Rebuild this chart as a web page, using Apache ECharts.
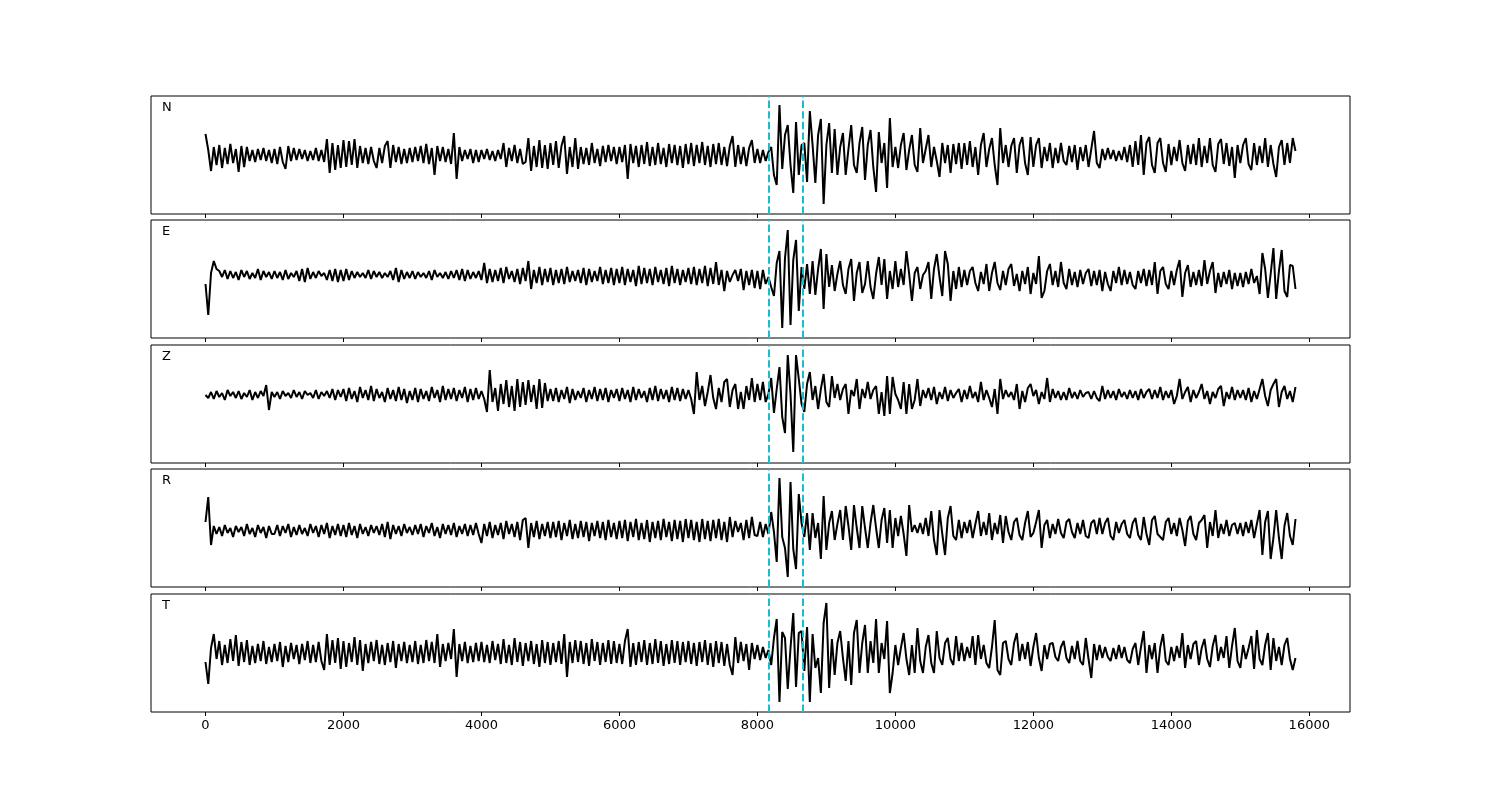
<!DOCTYPE html>
<html>
<head>
<meta charset="utf-8">
<script src="https://cdn.jsdelivr.net/npm/echarts@6/dist/echarts.min.js"></script>
<style>
html,body{margin:0;padding:0;background:#fff;}
#chart{width:1500px;height:800px;}
</style>
</head>
<body>
<div id="chart"></div>
<script>
// ---- data (amplitudes, one sample every 40 time units, t = 0 .. 15800) ----
const sampleStep = 40;
const componentLabels = ['N', 'E', 'Z', 'R', 'T'];
const pickTimes = [8160, 8655];
const xTickValues = [0, 2000, 4000, 6000, 8000, 10000, 12000, 14000, 16000];

const traceN = [
  21,5,-16,8,-10,10,-13,7,-9,11,-8,6,-17,9,-12,8,-6,5,-7,6,-5,7,-6,5,-8,
  6,-9,8,-7,-14,9,-6,7,-5,6,-4,5,-6,4,-5,7,-6,5,-7,16,-18,12,-15,10,-13,
  15,-12,14,-10,16,-13,9,-8,7,-9,8,-6,-13,7,-8,9,14,-13,10,-7,8,-9,6,-8,7,
  -7,8,-6,9,-8,11,-9,7,-20,9,-6,8,-7,6,-9,22,-24,8,-6,5,-4,6,-8,5,-7,
  5,-4,6,-5,4,-6,5,-4,12,-12,7,-6,10,-8,6,-9,-7,17,-16,9,-12,15,-13,10,-14,
  12,-10,14,-13,9,19,-19,8,-12,17,-14,8,-9,7,-10,12,-8,6,-11,9,-7,10,-6,8,-9,
  8,-7,10,-24,11,-8,9,-12,10,-9,13,-11,8,-10,12,-9,7,-12,11,-8,10,-10,9,-13,11,
  -9,12,-11,10,-8,13,-10,9,-12,11,-9,12,-10,8,-11,9,19,-12,10,-9,8,-11,7,15,-8,
  6,-8,5,-6,3,8,-20,-30,50,-14,20,30,-10,-38,33,-20,10,12,-27,44,10,-28,20,36,-49,
  10,32,-18,26,-20,8,22,-20,6,30,-10,-18,12,28,-25,10,25,-12,-37,23,-8,12,-33,37,-12,
  8,-13,10,22,-15,5,20,-10,-17,27,-8,6,20,-12,8,-6,-22,12,-8,10,-18,11,-9,12,-14,
  12,-10,14,-12,8,-20,10,22,-12,6,17,-10,-30,27,-8,10,-12,9,17,-18,10,18,-8,-20,18,
  -12,10,17,-13,8,-6,12,-13,7,-8,12,-6,-10,9,-7,10,-15,8,-6,10,-12,6,24,-8,-13,
  6,-5,7,-4,5,-6,4,-5,8,-7,10,-12,14,-10,20,-20,12,18,-10,-18,12,17,-8,-17,11,
  -10,8,-6,15,-8,-16,10,-9,11,-10,17,-12,9,-8,17,-10,-17,11,16,-9,12,-11,8,-23,10,
  -8,10,17,-9,-15,12,-10,9,-8,17,-12,10,-9,-22,8,15,-10,12,-8,17,4
];

const traceE = [
  -5,-36,6,18,10,8,2,9,0,8,1,7,-1,9,2,8,0,6,1,10,-1,8,2,7,0,
  8,1,7,-1,9,0,6,2,8,-2,10,-3,11,0,7,1,8,3,6,-1,9,-2,10,-3,9,
  -2,10,-1,8,1,7,2,6,1,9,0,8,2,7,1,6,2,8,-1,11,-3,9,0,7,1,
  8,0,7,2,6,1,8,-1,9,2,6,1,7,0,8,1,9,-1,10,-2,9,0,7,1,8,
  -1,16,-4,10,-3,9,-2,11,-4,12,0,8,-3,10,-5,11,-2,18,-10,9,-4,12,-6,10,-3,
  11,-6,9,-4,10,-5,12,-3,8,-2,9,-4,11,-6,10,-3,8,-2,12,-5,9,-4,11,-6,10,
  -4,12,-6,10,-3,9,-7,13,-5,11,-4,10,-6,12,-3,9,-5,11,-7,13,-4,10,-6,9,-3,
  11,-5,12,-6,10,-4,13,-7,11,-5,17,-6,9,-12,8,-3,4,9,-2,10,-11,8,-6,9,-9,
  8,-10,9,-5,2,-8,-17,16,28,-49,21,49,-46,19,39,-32,12,-10,15,-15,18,-16,10,30,-30,
  25,-8,14,-12,5,18,-6,-15,10,20,-22,6,17,-14,-5,18,-8,-20,5,22,-6,20,-20,8,-10,
  18,-8,10,-6,28,5,-22,6,12,-10,4,8,17,-20,10,25,2,-17,28,15,-22,8,-10,12,-8,
  9,-6,8,12,-4,-12,7,-5,15,-12,6,17,-4,-11,8,-6,10,15,-7,5,-12,8,-5,12,-15,
  6,-5,23,-19,-12,8,15,-6,8,-8,17,-4,-10,10,-6,7,-8,9,-5,6,10,-7,8,-6,9,
  -12,7,-5,-12,8,-4,12,-6,9,-5,7,-6,-10,8,-4,10,-7,9,-6,17,-15,8,12,-5,-10,
  8,-6,9,19,-18,6,14,-8,7,-6,9,-7,19,-5,8,17,-14,6,-8,7,-5,9,-10,6,-7,
  6,-8,7,-5,10,-4,3,-15,26,10,-19,5,31,-20,8,29,-12,-18,14,13,-10
];

const traceZ = [
  9,6,12,5,13,7,11,4,14,8,12,6,13,5,11,7,14,4,12,6,13,8,19,-6,12,
  7,12,5,13,8,11,6,14,7,12,5,13,9,11,6,14,5,12,8,13,6,15,4,14,7,
  15,3,16,5,13,2,17,6,14,4,18,3,15,6,12,2,16,5,14,3,17,4,15,1,13,
  4,16,2,15,5,13,3,17,6,14,2,18,4,15,5,16,3,14,6,17,2,15,4,16,5,
  13,5,-8,34,2,16,-7,20,0,24,-3,18,-7,25,-3,22,-1,24,2,19,-5,25,-4,21,3,
  15,3,16,2,14,5,17,1,15,4,13,6,16,2,14,5,17,3,15,4,16,2,14,6,15,
  3,16,5,14,2,17,4,15,6,13,2,16,4,18,3,15,5,14,2,17,4,16,3,15,5,
  14,5,-10,32,4,18,-2,12,29,6,-5,16,2,22,25,-3,14,20,-5,12,-5,18,4,26,2,
  20,4,22,2,10,26,-9,15,37,-13,-29,49,10,-48,49,25,0,-8,20,32,4,18,-5,15,30,
  2,-3,28,6,20,4,15,20,-10,14,8,25,-5,15,6,22,5,14,18,-10,12,-12,28,-10,27,
  10,4,-5,22,-10,20,-5,4,25,-2,14,6,16,4,17,0,12,5,17,3,14,6,11,15,2,
  14,5,18,6,12,2,22,4,14,6,-3,15,-10,25,5,14,7,12,4,20,-5,13,2,16,20,
  8,14,0,12,5,26,2,15,6,13,4,12,4,16,6,12,5,14,7,11,12,5,13,6,3,
  18,5,14,6,13,4,15,7,12,5,14,6,13,4,15,6,12,15,5,14,6,17,4,13,6,
  14,0,8,25,5,12,17,2,14,6,12,20,5,13,0,12,6,15,18,-2,12,5,17,4,14,
  6,14,4,16,2,13,5,15,25,8,-2,14,20,25,-3,12,18,5,13,2,17
];

const traceR = [
  6,31,-17,2,-6,1,-8,3,-5,0,-9,2,-4,1,-8,4,-6,0,-9,3,-5,1,-10,2,-6,
  -6,3,-8,2,-5,4,-9,1,-7,3,-6,0,-8,4,-5,2,-9,3,-6,5,-10,2,-7,4,-8,
  3,-9,5,-7,2,-10,4,-6,1,-8,3,-5,2,-7,4,-9,6,-11,3,-6,2,-8,4,-5,1,
  -7,3,-6,4,-9,2,-5,5,-8,1,-10,4,-6,3,-7,5,-9,2,-6,4,-8,3,-7,5,-6,
  -15,4,-8,6,-10,3,-7,5,-11,7,-6,4,-9,6,-12,8,10,-20,5,-9,7,-11,4,-8,6,
  -10,6,-9,7,-12,5,-8,8,-11,4,-10,7,-9,6,-13,5,-8,7,-10,6,-12,8,-9,5,-11,
  7,-10,8,-13,6,-9,9,-12,5,-11,8,-14,6,-10,7,-12,9,-9,6,-13,8,-11,7,-14,9,
  -10,8,-12,6,-14,9,-11,7,-13,8,-10,9,-12,6,-14,11,-9,7,-4,5,-12,8,-10,11,-7,
  -8,6,-9,4,-6,16,-4,-34,50,-9,-20,-49,46,-21,-41,34,5,-9,15,-22,15,-10,5,-31,32,
  -22,5,17,-12,4,18,-12,22,2,-22,23,0,-20,22,0,-20,5,23,0,-20,8,20,-15,18,-20,
  10,-8,12,-6,-28,23,-4,3,-5,5,-6,10,-8,17,-12,-27,18,-6,-27,10,22,-8,-12,8,-10,
  6,-5,8,-10,4,17,-8,6,-7,15,-12,5,-6,13,-15,12,-4,-12,6,10,-7,-12,5,17,-9,
  -5,6,18,-20,3,8,-10,4,-6,9,-5,-10,6,9,-4,-10,5,-6,8,-8,-10,5,8,-6,10,
  -6,5,10,-8,-12,6,-5,4,8,-6,-10,5,10,-7,-12,11,-6,-17,8,12,-6,-9,-12,6,10,
  -6,5,-8,10,-2,-18,7,12,-6,-12,5,8,13,-20,6,-8,18,-10,4,-6,8,-8,3,5,-6,
  5,-8,6,-5,8,-10,4,18,-27,6,17,-31,-10,18,-10,-31,2,15,-8,-17,9
];

const traceT = [
  -9,-31,5,19,-6,12,-12,8,-10,14,-8,18,-13,11,-9,13,-12,7,-10,9,-8,12,-11,6,-9,
  9,-8,11,-14,7,-9,10,-6,8,-11,9,-7,12,-10,8,-9,11,-8,-17,19,-12,13,-10,15,-16,
  12,-14,10,-9,16,-12,13,-18,9,-10,11,-8,13,-11,8,-12,10,-9,12,-15,9,-8,11,-10,8,
  -9,12,-11,8,-10,13,-8,11,-10,19,-14,9,-8,10,-6,24,-24,9,-8,11,-10,7,-9,10,-8,
  11,-9,8,-10,12,-7,9,-11,14,-10,8,-12,15,-9,11,-13,10,-8,12,-11,9,-14,13,-10,11,
  -12,10,-9,12,-11,19,-24,11,-10,13,-9,12,-11,10,-13,14,-8,11,-12,10,-9,13,-11,12,-10,
  9,-11,12,24,-14,10,-12,11,-9,13,-12,10,-11,14,-10,12,-13,9,-11,13,-10,12,-12,11,-9,
  12,-11,10,-13,11,-9,13,-12,10,-14,12,-10,11,-13,9,-12,-22,16,-10,11,-8,9,-17,10,-6,
  8,-7,6,-5,3,-12,15,34,-49,21,15,-36,5,40,-34,20,22,-18,26,-49,19,-15,-5,-40,30,
  50,-35,14,-22,10,22,-5,-28,12,-32,20,33,-20,10,28,-20,12,-10,34,-20,10,-6,32,-40,-20,
  8,-12,5,20,-6,-22,8,-20,25,-8,-20,6,18,-10,-20,22,-5,-12,10,15,-6,-12,17,-8,10,
  -8,6,-5,17,-12,18,-6,8,-10,-15,6,33,-17,-22,10,12,-6,-12,10,20,-8,9,-6,11,-13,
  6,20,-5,-18,8,-6,9,10,-4,-8,6,12,-5,-10,7,-6,12,-8,-12,15,-6,-25,9,-7,8,
  -5,6,-4,-8,5,-6,8,-5,6,-7,-10,4,10,-12,6,22,-20,8,-6,10,-20,6,19,-8,-12,
  6,-8,7,-5,20,-15,8,-6,9,12,-12,5,14,-6,-14,7,18,-8,6,-5,17,-15,7,25,-8,
  -15,8,-6,5,17,-16,23,-6,-12,8,20,-17,15,-8,6,-12,8,15,-6,-17,-5
];

// ---- chart ----
const traces = [traceN, traceE, traceZ, traceR, traceT];
const panelTops = [96, 220, 345, 469, 594];
const panelHeight = 118;
const xMin = -790, xMax = 16590;

const grids = [], xAxes = [], yAxes = [], series = [], graphics = [];
traces.forEach((tr, i) => {
  grids.push({
    left: 151, width: 1199, top: panelTops[i], height: panelHeight,
    show: true, borderColor: '#000', borderWidth: 1, backgroundColor: 'transparent'
  });
  xAxes.push({
    type: 'value', gridIndex: i, min: xMin, max: xMax, position: 'bottom',
    axisLine: { show: false, onZero: false },
    splitLine: { show: false },
    axisTick: { show: true, customValues: xTickValues, length: 4, inside: false,
                lineStyle: { color: '#000', width: 1 } },
    axisLabel: { show: i === traces.length - 1, customValues: xTickValues,
                 formatter: v => String(v),
                 color: '#000', fontSize: 13, fontFamily: 'DejaVu Sans', margin: 7 }
  });
  yAxes.push({
    type: 'value', gridIndex: i, min: -59, max: 59, show: false,
    splitLine: { show: false }
  });
  series.push({
    type: 'line', xAxisIndex: i, yAxisIndex: i,
    data: tr.map((v, k) => [k * sampleStep, v]),
    showSymbol: false, symbol: 'none', smooth: false, animation: false,
    lineStyle: { color: '#000', width: 2 },
    clip: true,
    markLine: {
      silent: true, animation: false, symbol: ['none', 'none'],
      label: { show: false },
      lineStyle: { color: '#17becf', width: 2, type: [7.4, 3.2] },
      data: pickTimes.map(t => ({ xAxis: t }))
    }
  });
  graphics.push({
    type: 'text', x: 162, y: panelTops[i] + 12, z: 10,
    style: { text: componentLabels[i], font: '13px "DejaVu Sans"', fill: '#000',
             align: 'left', verticalAlign: 'middle' }
  });
});

const chart = echarts.init(document.getElementById('chart'), null, { renderer: 'canvas' });
chart.setOption({
  backgroundColor: '#fff',
  animation: false,
  grid: grids,
  xAxis: xAxes,
  yAxis: yAxes,
  series: series,
  graphic: graphics
});
</script>
</body>
</html>
